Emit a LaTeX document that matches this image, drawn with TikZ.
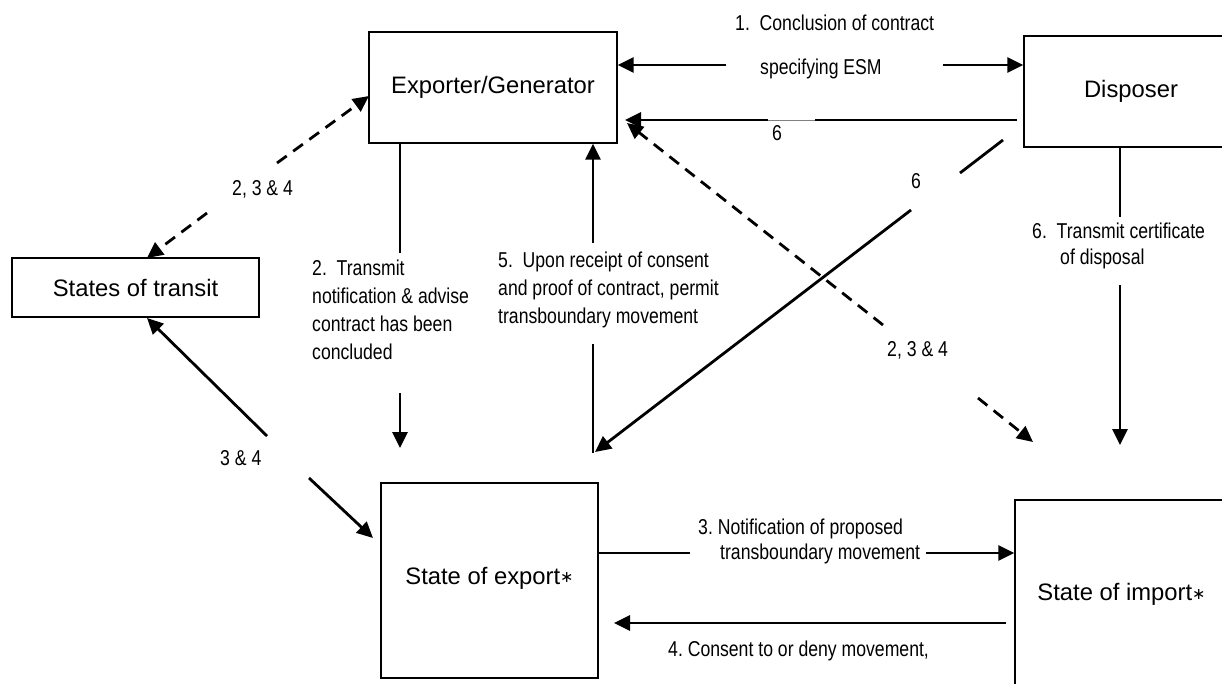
\documentclass[tikz,border=0pt]{standalone}
\usepackage{fontspec}
\setmainfont{Liberation Sans}
\newfontfamily\narrowf[FakeStretch=0.82]{Liberation Sans}
\newfontfamily\djv{DejaVu Sans}
\usetikzlibrary{arrows.meta}
\frenchspacing
\newcommand\myast{{\djv\fontsize{16}{16}\selectfont\raisebox{1.5pt}{∗}}}
\begin{document}
\begin{tikzpicture}[x=1pt,y=-1pt,
  box/.style={draw, line width=1.4pt, inner sep=0pt, font=\fontsize{23.8}{28}\selectfont},
  lab/.style={inner sep=0pt, font=\narrowf\fontsize{21.5}{28}\selectfont},
  con/.style={line width=2.8pt},
  arr/.style={con, -{Triangle[length=16pt,width=15pt]}},
  dsh/.style={line width=2.8pt, dash pattern=on 12pt off 8pt},
  darr/.style={dsh, -{Triangle[length=16pt,width=15pt]}},
]
\useasboundingbox (0,0) rectangle (1222,683);

% boxes
\node[box, minimum width=248pt, minimum height=111pt] (exp) at (493,87.5) {Exporter/Generator};
\node[box, minimum width=214pt, minimum height=111pt] (disp) at (1131,91.5) {Disposer};
\node[box, minimum width=247pt, minimum height=59pt] (trans) at (135.5,287.5) {States of transit};
\node[box, minimum width=217pt, minimum height=195pt] (sexp) at (489.5,580.5) {\raisebox{10pt}{State of export\myast}};
\node[box, minimum width=213pt, minimum height=200pt] (simp) at (1121.5,600) {\raisebox{16pt}{State of import\myast}};

% labels
\node[lab, anchor=base west] (l1a) at (735,30.5) {1.~~Conclusion of contract};
\node[lab, anchor=base west] (l1b) at (760,74.5) {specifying ESM};
\node[lab, anchor=base] (l6a) at (777,140) {6};
\node[lab, anchor=base] (l6b) at (916,188) {6};
\node[lab, anchor=base west] (l6c) at (1032,238) {6.~~Transmit certificate};
\node[lab, anchor=base west] (l6d) at (1060,264) {of disposal};
\node[lab, anchor=base west] (l234r) at (887,356) {2, 3 \& 4};
\node[lab, anchor=base west] (l234l) at (232,195) {2, 3 \& 4};
\node[lab, anchor=base west] (l34) at (220,465) {3 \& 4};
\node[lab, anchor=base west] (l3a) at (698,534) {3. Notification of proposed};
\node[lab, anchor=base west] (l3b) at (720,559) {transboundary movement};
\node[lab, anchor=base west] (l4) at (668,656) {4. Consent to or deny movement,};
\node[lab, anchor=north west, align=left] (l2) at (312,260) {2.~~Transmit\\notification \& advise\\contract has been\\concluded};
\node[lab, anchor=north west, align=left] (l5) at (498,252) {5.~~Upon receipt of consent\\and proof of contract, permit\\transboundary movement};

% coordinates
\coordinate (a1l) at (726,65);
\coordinate (a1r) at (943,65);
\coordinate (h6s) at (1017,120);
\coordinate (h6g1) at (815,120);
\coordinate (h6g2) at (768,120);
\coordinate (h6e) at (625,120);
\coordinate (d6s) at (1003,140);
\coordinate (d6g1) at (960,173);
\coordinate (d6g2) at (911,210);
\coordinate (d6e) at (595,452);
\coordinate (a5s) at (593,453);
\coordinate (a5g1) at (593,344);
\coordinate (a5g2) at (593,243);
\coordinate (a2g1) at (400,253);
\coordinate (a2g2) at (400,393);
\coordinate (a2e) at (400,448);
\coordinate (t1) at (207,213);
\coordinate (t2) at (277,163);
\coordinate (tt) at (147,258);
\coordinate (te) at (369,96);
\coordinate (u1) at (267,436);
\coordinate (u2) at (309,478);
\coordinate (ut) at (147,318);
\coordinate (ue) at (373,538);
\coordinate (v1) at (883,325);
\coordinate (v2) at (978,398);
\coordinate (vt) at (627,123);
\coordinate (ve) at (1033,442);
\coordinate (a3g1) at (690,553);
\coordinate (a3g2) at (926,553);
\coordinate (a4s) at (1006,623);
\coordinate (a4e) at (614,623);
\coordinate (c6g1) at (1120,217);
\coordinate (c6g2) at (1120,285);
\coordinate (c6e) at (1120,445);

% 1
\draw[arr] (a1l) -- (a1l -| exp.east);
\draw[arr] (a1r) -- (a1r -| disp.west);
% 6 horizontal
\draw[con] (h6s) -- (h6g1);
\draw[gray, line width=0.8pt] (h6g1) -- (h6g2);
\draw[arr] (h6g2) -- (h6e);
% 6 diagonal
\draw[con] (d6s) -- (d6g1);
\draw[arr] (d6g2) -- (d6e);
% 5
\draw[con] (a5s) -- (a5g1);
\draw[arr] (a5g2) -- (a5g2 |- exp.south);
% 2
\draw[con] (a2g1 |- exp.south) -- (a2g1);
\draw[arr] (a2g2) -- (a2e);
% 2,3&4 transit
\draw[darr] (t1) -- (tt);
\draw[darr] (t2) -- (te);
% 3&4
\draw[arr] (u1) -- (ut);
\draw[arr] (u2) -- (ue);
% 2,3&4 import
\draw[darr] (v1) -- (vt);
\draw[darr] (v2) -- (ve);
% 3
\draw[con] (a3g1 -| sexp.east) -- (a3g1);
\draw[arr] (a3g2) -- (a3g2 -| simp.west);
% 4
\draw[arr] (a4s) -- (a4e);
% 6 certificate
\draw[con] (c6g1 |- disp.south) -- (c6g1);
\draw[arr] (c6g2) -- (c6e);
\end{tikzpicture}
\end{document}
